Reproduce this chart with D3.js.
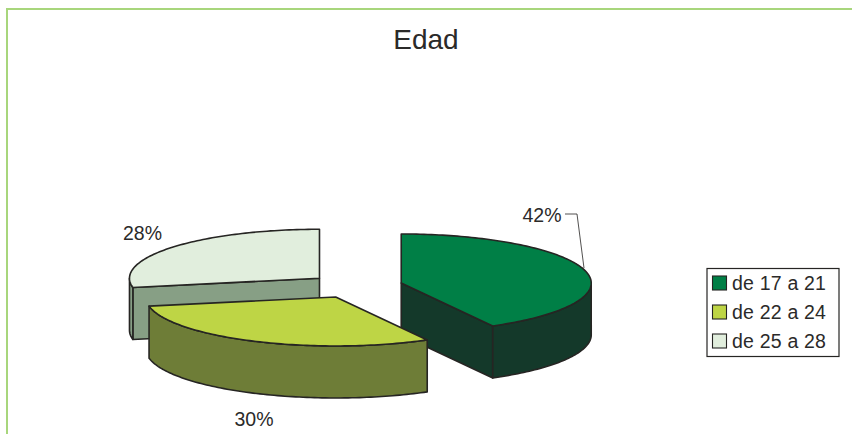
<!DOCTYPE html>
<html><head><meta charset="utf-8">
<script src="https://cdn.jsdelivr.net/npm/d3@7"></script>
<style>html,body{margin:0;padding:0;background:#fff}svg{display:block}text{font-family:"Liberation Sans",Arial,sans-serif;fill:#2b2a29}</style>
</head><body><svg id="c" width="852" height="434"></svg>
<script>
const title = "Edad";
const categories = ["de 17 a 21", "de 22 a 24", "de 25 a 28"];
const values = [42, 30, 28];
const topColors = ["#007f46", "#bed545", "#e1eedd"];
const sideColors = ["#14392a", "#6e7d37", "#879f85"];

const W = 852, H = 434, ink = "#262523";
const cx = 355.7, cy = 286, rx = 190, ry = 49, depth = 52, explode = 47;
const svg = d3.select("#c");

svg.append("path").attr("d", `M${W},9H7V${H}`).attr("fill", "none")
  .attr("stroke", "#a8d67c").attr("stroke-width", 2);

svg.append("text").attr("x", 426).attr("y", 49).attr("text-anchor", "middle")
  .attr("font-size", 28).text(title);

const pie = d3.pie().sort(null).value(d => d);
const arcs = pie(values);
const line = d3.line();
const on = (a, c, dy = 0) => [c[0] + rx * Math.sin(a), c[1] - ry * Math.cos(a) + dy];
const sweep = (a0, a1, c, dy = 0) => {
  const n = Math.max(2, Math.ceil((a1 - a0) / 0.02));
  return d3.range(n + 1).map(k => on(a0 + (a1 - a0) * k / n, c, dy));
};
const center = d => {
  const m = (d.startAngle + d.endAngle) / 2;
  return [cx + explode * Math.sin(m), cy - explode * ry / rx * Math.cos(m)];
};
const styled = (sel, fill) => sel.attr("fill", fill).attr("stroke", ink)
  .attr("stroke-width", 1.6).attr("stroke-linejoin", "round");

// back to front: pale, green, yellow
[2, 0, 1].forEach(i => {
  const d = arcs[i], c = center(d), g = svg.append("g"), s = sideColors[i];
  const a0 = d.startAngle, a1 = d.endAngle;
  const flat = (p, q) => [p, q, [q[0], q[1] + depth], [p[0], p[1] + depth]];
  // radial cut faces that look toward the viewer
  if (Math.sin(a0) < -1e-6) styled(g.append("path").attr("d", line(flat(c, on(a0, c))) + "Z"), s);
  if (Math.sin(a1) > 1e-6) styled(g.append("path").attr("d", line(flat(c, on(a1, c))) + "Z"), s);
  // outer wall: lower half of the ellipse only
  const lo = Math.max(a0, Math.PI / 2), hi = Math.min(a1, 3 * Math.PI / 2);
  if (hi > lo) {
    const top = sweep(lo, hi, c), bot = sweep(lo, hi, c, depth).reverse();
    styled(g.append("path").attr("d", line(top.concat(bot)) + "Z"), s);
  }
  // top face
  styled(g.append("path").attr("d", line([c].concat(sweep(a0, a1, c))) + "Z"), topColors[i]);
});

// labels
const labelPos = [[542, 222], [254, 426], [142.5, 240]];
values.forEach((v, i) => {
  svg.append("text").attr("x", labelPos[i][0]).attr("y", labelPos[i][1])
    .attr("text-anchor", "middle").attr("font-size", 19.5).text(v + "%");
});
svg.append("path").attr("d", "M565,214H577L584,268").attr("fill", "none")
  .attr("stroke", ink).attr("stroke-width", 0.8);

// legend
const lg = svg.append("g");
lg.append("rect").attr("x", 707).attr("y", 268.5).attr("width", 132).attr("height", 88)
  .attr("fill", "#fff").attr("stroke", ink).attr("stroke-width", 1.2);
const ly = d3.scalePoint().domain(categories).range([283, 341]);
categories.forEach((c, i) => {
  lg.append("rect").attr("x", 712.5).attr("y", ly(c) - 7).attr("width", 14).attr("height", 14)
    .attr("fill", topColors[i]).attr("stroke", ink).attr("stroke-width", 1.1);
  lg.append("text").attr("x", 732).attr("y", ly(c) + 6.5).attr("font-size", 19.5)
    .attr("letter-spacing", 0.2).text(c);
});
</script></body></html>
